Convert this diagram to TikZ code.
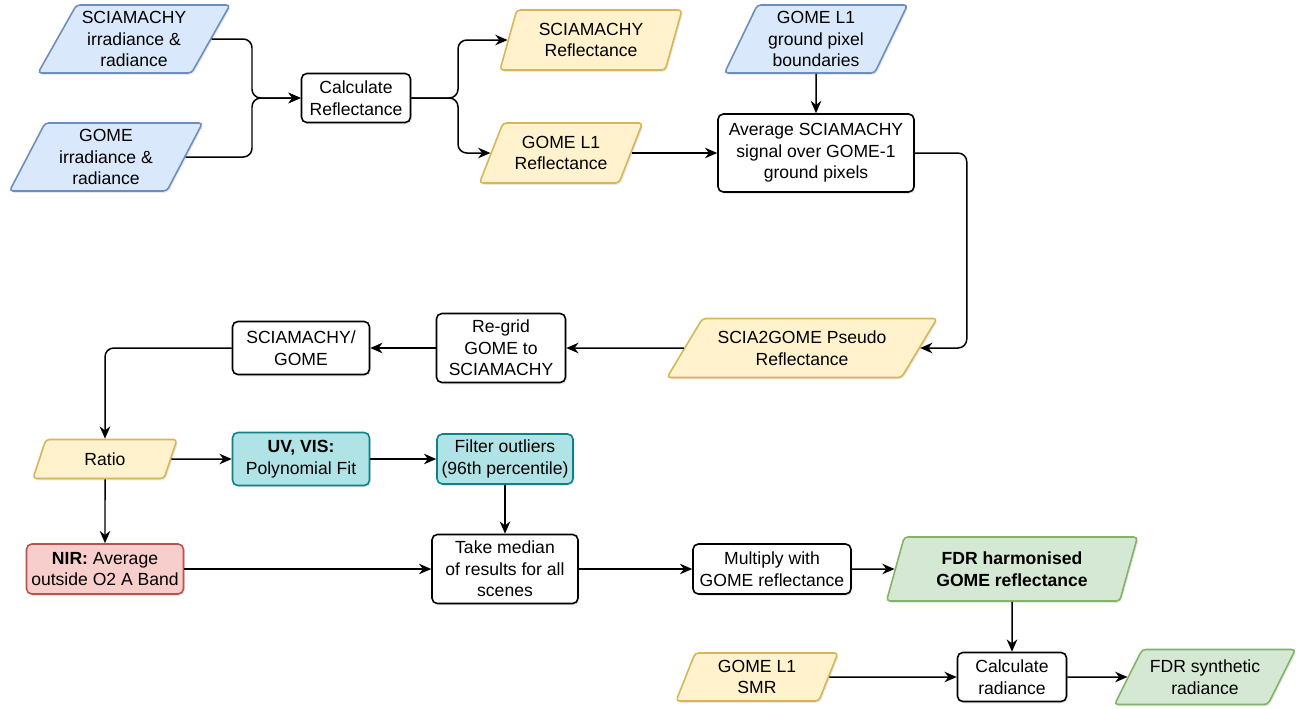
\documentclass[tikz,border=0pt]{standalone}
\usepackage{fontspec}
\setmainfont{Liberation Sans}
\usepackage{xcolor}
\usepackage{tikz}
\usetikzlibrary{shapes,shapes.geometric,arrows.meta,positioning,calc,shadows}

\definecolor{bluefill}{HTML}{DAE8FC}
\definecolor{blueline}{HTML}{6C8EBF}
\definecolor{yellowfill}{HTML}{FFF2CC}
\definecolor{yellowline}{HTML}{D6B656}
\definecolor{tealfill}{HTML}{B0E3E6}
\definecolor{tealline}{HTML}{0E8088}
\definecolor{redfill}{HTML}{F8CECC}
\definecolor{redline}{HTML}{B85450}
\definecolor{greenfill}{HTML}{D5E8D4}
\definecolor{greenline}{HTML}{82B366}

\tikzset{
  txt/.style={font=\fontsize{10}{12.3}\selectfont, align=center, inner sep=1pt,
    line width=0.9pt, drop shadow={opacity=0.18, shadow xshift=0.8pt, shadow yshift=-1pt}},
  proc/.style={txt, rectangle, rounded corners=3pt, draw=black, fill=white},
  io/.style={txt, trapezium, trapezium left angle=#1, trapezium right angle={180-#1},
    trapezium stretches body, rounded corners=2pt},
  io/.default=60,
  blueio/.style={io=#1, draw=blueline, fill=bluefill},
  yellowio/.style={io=#1, draw=yellowline, fill=yellowfill},
  greenio/.style={io=#1, draw=greenline, fill=greenfill},
  tealbox/.style={proc, draw=tealline, fill=tealfill},
  redbox/.style={proc, draw=redline, fill=redfill},
  arr/.style={-{Stealth[length=7pt,width=6pt]}, line width=0.85pt, rounded corners=5pt},
}

\begin{document}
\begin{tikzpicture}[x=0.02cm, y=-0.02cm]
\useasboundingbox (0,0) rectangle (1296,708);
% Input data
\node[blueio=57, minimum width=3.84cm, minimum height=1.36cm] (sciaIn) at (134,39) {SCIAMACHY\\irradiance \&\\radiance};
\node[blueio=59, minimum width=3.86cm, minimum height=1.36cm] (gomeIn) at (106,157) {GOME\\irradiance \&\\radiance};
\node[proc, minimum width=2.18cm, minimum height=0.98cm] (calcRefl) at (356,98) {Calculate\\Reflectance};
\node[yellowio=66, minimum width=3.64cm, minimum height=1.2cm] (sciaRefl) at (591,40) {SCIAMACHY\\Reflectance};
\node[yellowio=58, minimum width=3.26cm, minimum height=1.2cm] (gomeRefl) at (561,153) {GOME L1\\Reflectance};
\node[blueio=61, minimum width=3.66cm, minimum height=1.36cm] (gomeBound) at (816,39) {GOME L1\\ground pixel\\boundaries};
\node[proc, minimum width=3.92cm, minimum height=1.56cm] (average) at (816,153) {Average SCIAMACHY\\signal over GOME-1\\ground pixels};
% Pseudo reflectance and ratio
\node[yellowio=47, minimum width=5.4cm, minimum height=1.18cm] (pseudo) at (802,348) {SCIA2GOME Pseudo\\Reflectance};
\node[proc, minimum width=2.58cm, minimum height=1.38cm] (regrid) at (501,348) {Re-grid\\GOME to\\SCIAMACHY};
\node[proc, minimum width=2.74cm, minimum height=1.06cm] (sciaGome) at (301,348) {SCIAMACHY/\\GOME};
\node[yellowio=52, minimum width=2.88cm, minimum height=0.78cm] (ratio) at (105,459) {Ratio};
\node[tealbox, minimum width=2.74cm, minimum height=1.06cm] (polyFit) at (301,459) {\textbf{UV, VIS:}\\Polynomial Fit};
\node[tealbox, minimum width=2.72cm, minimum height=1.0cm] (filter) at (505,459) {Filter outliers\\(96th percentile)};
\node[redbox, minimum width=3.14cm, minimum height=1.0cm] (nir) at (105,569) {\textbf{NIR:} Average\\outside O2 A Band};
% Harmonised output
\node[proc, minimum width=2.92cm, minimum height=1.38cm] (median) at (505,569) {Take median\\of results for all\\scenes};
\node[proc, minimum width=3.16cm, minimum height=1.0cm] (multiply) at (772,569) {Multiply with\\GOME reflectance};
\node[greenio=65, minimum width=5.02cm, minimum height=1.28cm] (fdrRefl) at (1012,569) {\textbf{FDR harmonised}\\\textbf{GOME reflectance}};
\node[yellowio=63, minimum width=3.24cm, minimum height=0.96cm] (smr) at (757,677) {GOME L1\\SMR};
\node[proc, minimum width=2.18cm, minimum height=0.98cm] (calcRad) at (1012,677) {Calculate\\radiance};
\node[greenio=54, minimum width=3.62cm, minimum height=1.1cm] (fdrRad) at (1205,677) {FDR synthetic\\radiance};
% Connectors
\coordinate (join) at (252,98);
\coordinate (split) at (458,98);
\draw[arr] (sciaIn.east) -| (join) -- (calcRefl.west);
\draw[arr] (gomeIn.east) -| (join) -- (calcRefl.west);
\draw[arr] (calcRefl.east) -- (split) |- (sciaRefl.west);
\draw[arr] (calcRefl.east) -- (split) |- (gomeRefl.west);
\draw[arr] (gomeRefl.east) -- (gomeRefl.east -| average.west);
\draw[arr] (gomeBound.south) -- (average.north);
\draw[arr] (average.east) -- ++(52,0) |- (pseudo.east);
\draw[arr] (pseudo.west) -- (regrid.east);
\draw[arr] (regrid.west) -- (sciaGome.east);
\draw[arr] (sciaGome.west) -| (ratio.north);
\draw[arr] (ratio.east) -- (polyFit.west);
\draw[arr] (polyFit.east) -- (filter.west);
\draw[arr] (filter.south) -- (median.north);
\draw[arr] (ratio.south) -- (nir.north);
\draw[arr] (nir.east) -- (median.west);
\draw[arr] (median.east) -- (multiply.west);
\draw[arr] (multiply.east) -- (fdrRefl.west);
\draw[arr] (fdrRefl.south) -- (calcRad.north);
\draw[arr] (smr.east) -- (calcRad.west);
\draw[arr] (calcRad.east) -- (fdrRad.west);
\end{tikzpicture}
\end{document}
